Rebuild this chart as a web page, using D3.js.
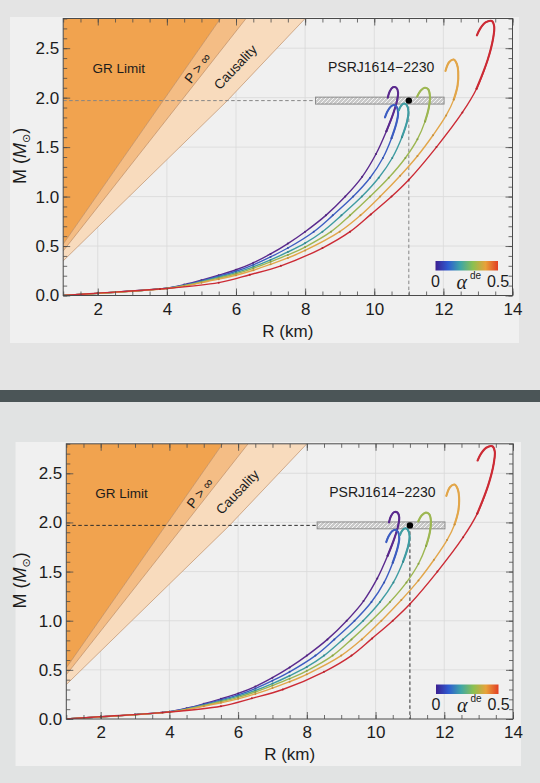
<!DOCTYPE html>
<html>
<head>
<meta charset="utf-8">
<script src="https://cdn.jsdelivr.net/npm/d3@7"></script>
<style>
  body { margin: 0; background: #e4e4e4; }
  svg text { font-family: "Liberation Sans", Arial, "DejaVu Sans", sans-serif; fill: #1c1c1c; }
</style>
</head>
<body>
<svg id="fig" width="540" height="783"></svg>
<script>
// ---- data: [R (km), M (Msun)] ----
const alphaValues = [0, 0.1, 0.2, 0.3, 0.4, 0.5];
const curveColors = ["#5b2a8e", "#3d5ec2", "#3f9ca2", "#9db752", "#e2a64a", "#cc2b35"];
const colorbarStops = ["#3c1f91", "#2e5bd0", "#3fa6a6", "#8cc050", "#e8a23a", "#e23e24"];

const curveA0 = [[1.0,0.0],[2.0,0.022],[3.0,0.045],[4.0,0.075],[4.5,0.11],[5.0,0.155],[5.5,0.205],[6.0,0.26],[6.5,0.33],[7.0,0.42],[7.5,0.525],[8.0,0.645],[8.6,0.81],[9.16,1.0],[9.65,1.2],[10.05,1.43],[10.35,1.66],[10.55,1.84],[10.66,1.97],[10.69,2.05],[10.64,2.1],[10.54,2.105],[10.45,2.065],[10.39,2.0]];
const curveA1 = [[1.0,0.0],[2.0,0.022],[3.0,0.045],[4.0,0.074],[4.5,0.105],[5.0,0.148],[5.5,0.195],[6.0,0.245],[6.5,0.31],[7.0,0.39],[7.5,0.48],[8.25,0.645],[8.8,0.81],[9.39,1.0],[9.88,1.19],[10.25,1.39],[10.5,1.59],[10.64,1.74],[10.69,1.84],[10.66,1.9],[10.58,1.925],[10.48,1.91],[10.38,1.86],[10.31,1.8]];
const curveA2 = [[1.0,0.0],[2.0,0.022],[3.0,0.044],[4.0,0.073],[4.5,0.1],[5.0,0.14],[5.5,0.185],[6.0,0.232],[6.5,0.29],[7.0,0.36],[7.5,0.44],[8.0,0.53],[8.5,0.645],[9.05,0.81],[9.64,1.0],[10.13,1.19],[10.52,1.39],[10.8,1.6],[10.95,1.76],[10.99,1.86],[10.94,1.925],[10.86,1.94],[10.77,1.915],[10.71,1.87]];
const curveA3 = [[1.0,0.0],[2.0,0.022],[3.0,0.044],[4.0,0.072],[4.5,0.098],[5.0,0.135],[5.5,0.175],[6.0,0.22],[6.5,0.275],[7.0,0.34],[7.5,0.41],[8.0,0.49],[8.75,0.645],[9.3,0.81],[9.88,1.0],[10.42,1.19],[10.9,1.39],[11.25,1.58],[11.47,1.76],[11.58,1.9],[11.61,2.02],[11.56,2.085],[11.46,2.1],[11.34,2.07],[11.24,2.01]];
const curveA4 = [[1.0,0.0],[2.0,0.022],[3.0,0.043],[4.0,0.07],[4.5,0.095],[5.0,0.13],[5.5,0.165],[6.0,0.205],[6.5,0.255],[7.0,0.315],[7.5,0.38],[8.0,0.455],[9.0,0.645],[9.6,0.81],[10.17,1.0],[10.75,1.21],[11.25,1.41],[11.7,1.62],[12.08,1.82],[12.3,1.98],[12.41,2.12],[12.43,2.26],[12.39,2.34],[12.3,2.385],[12.17,2.36],[12.06,2.27]];
const curveA5 = [[1.0,0.0],[2.0,0.024],[3.8,0.065],[5.5,0.13],[6.4,0.21],[7.3,0.3],[8.5,0.48],[9.3,0.645],[9.9,0.82],[10.5,1.0],[11.0,1.17],[11.8,1.5],[12.55,1.85],[12.96,2.09],[13.28,2.38],[13.44,2.6],[13.47,2.72],[13.4,2.775],[13.22,2.76],[13.07,2.7],[12.97,2.63]];
const curves = [curveA0, curveA1, curveA2, curveA3, curveA4, curveA5];

// excluded regions (boundary lines)
const grLimit = [[1.0,0.52],[5.55,2.8]];
const pInfinity = [[1.0,0.45],[6.29,2.8]];
const causality = [[1.0,0.35],[5.75,1.97],[8.0,2.8]];

// PSR J1614-2230
const psrMass = 1.97;
const psrMassErr = 0.035;
const psrBand = [8.3, 12.02];
const psrRadius = 11.0;

// axes
const xDomain = [1, 14];
const yDomain = [0, 2.8];
const xTicks = [2, 4, 6, 8, 10, 12, 14];
const xMinor = d3.range(1, 14.01, 0.5);
const yTicks = [0, 0.5, 1.0, 1.5, 2.0, 2.5];
const yMinor = d3.range(0, 2.801, 0.1);
const xGrid = [2, 4, 6, 8, 10, 12];
const yGrid = [0.5, 1.0, 1.5, 2.0, 2.5];

// ---- page ----
const svg = d3.select("#fig");
svg.append("rect").attr("width", 540).attr("height", 783).attr("fill", "#e4e4e4");
svg.append("rect").attr("y", 402).attr("width", 540).attr("height", 381).attr("fill", "#e1e3e3");
svg.append("rect").attr("y", 390).attr("width", 540).attr("height", 12).attr("fill", "#4b5557");

const defs = svg.append("defs");
const hatch = defs.append("pattern")
  .attr("id", "hatch").attr("patternUnits", "userSpaceOnUse")
  .attr("width", 4).attr("height", 4);
hatch.append("rect").attr("width", 4).attr("height", 4).attr("fill", "#c9c9c9");
hatch.append("path").attr("d", "M0,4 L4,0 M-1,1 L1,-1 M3,5 L5,3")
  .attr("stroke", "#f4f4f4").attr("stroke-width", 1);

const grad = defs.append("linearGradient").attr("id", "cbar");
colorbarStops.forEach((c, i) => grad.append("stop")
  .attr("offset", i / (colorbarStops.length - 1)).attr("stop-color", c));

const panels = [
  { card: [10, 17, 509, 326], plot: [63.2, 18.5, 512.5, 295.5], dash: "#858585" },
  { card: [15.5, 442, 505.5, 324], plot: [66.3, 443.8, 513, 719], dash: "#2e2e2e" }
];

panels.forEach((p, i) => drawPanel(p, i));

function drawPanel(p, i) {
  const [left, top, right, bottom] = p.plot;
  const x = d3.scaleLinear().domain(xDomain).range([left, right]);
  const y = d3.scaleLinear().domain(yDomain).range([bottom, top]);
  const g = svg.append("g");

  g.append("rect")
    .attr("x", p.card[0]).attr("y", p.card[1])
    .attr("width", p.card[2]).attr("height", p.card[3])
    .attr("fill", "#f0f0f0");

  defs.append("clipPath").attr("id", "clip" + i)
    .append("rect").attr("x", left).attr("y", top)
    .attr("width", right - left).attr("height", bottom - top);

  const plot = g.append("g").attr("clip-path", "url(#clip" + i + ")");

  // grid
  plot.selectAll(".gx").data(xGrid).join("line")
    .attr("x1", d => x(d)).attr("x2", d => x(d))
    .attr("y1", top).attr("y2", bottom)
    .attr("stroke", "#d9d9d9").attr("stroke-width", 0.8);
  plot.selectAll(".gy").data(yGrid).join("line")
    .attr("y1", d => y(d)).attr("y2", d => y(d))
    .attr("x1", left).attr("x2", right)
    .attr("stroke", "#d9d9d9").attr("stroke-width", 0.8);

  // excluded regions
  const poly = d3.line().x(d => x(d[0])).y(d => y(d[1]));
  const grPoly = [...grLimit, [xDomain[0], yDomain[1]]];
  const pPoly = [...grLimit, ...pInfinity.slice().reverse()];
  const cPoly = [...pInfinity, ...causality.slice().reverse()];
  plot.append("path").attr("d", poly(cPoly) + "Z").attr("fill", "#f8dbbd");
  plot.append("path").attr("d", poly(pPoly) + "Z").attr("fill", "#f4bd85");
  plot.append("path").attr("d", poly(grPoly) + "Z").attr("fill", "#f1a34f");
  [grLimit, pInfinity, causality].forEach(l => plot.append("path")
    .attr("d", poly(l)).attr("fill", "none")
    .attr("stroke", "#b58258").attr("stroke-width", 0.6));

  // region labels
  g.append("text").attr("x", x(2.61)).attr("y", y(2.3)).attr("dy", "0.35em")
    .attr("text-anchor", "middle").attr("font-size", 13.5).attr("fill", "#33261a")
    .text("GR Limit");
  const ang = (a, b) => Math.atan2(y(b[1]) - y(a[1]), x(b[0]) - x(a[0])) * 180 / Math.PI;
  g.append("text")
    .attr("transform", `translate(${x(4.89)},${y(2.3)}) rotate(${ang(pInfinity[0], pInfinity[1])})`)
    .attr("dy", "0.35em").attr("text-anchor", "middle").attr("font-size", 13.5)
    .text("P > \u221E");
  g.append("text")
    .attr("transform", `translate(${x(5.98)},${y(2.31)}) rotate(${ang(causality[1], causality[2])})`)
    .attr("dy", "0.35em").attr("text-anchor", "middle").attr("font-size", 13.5)
    .text("Causality");

  // PSR constraint
  plot.append("line")
    .attr("x1", left).attr("x2", x(psrRadius))
    .attr("y1", y(psrMass)).attr("y2", y(psrMass))
    .attr("stroke", p.dash).attr("stroke-width", 1).attr("stroke-dasharray", "3.5,2.5");
  plot.append("line")
    .attr("x1", x(psrRadius)).attr("x2", x(psrRadius))
    .attr("y1", y(psrMass)).attr("y2", bottom)
    .attr("stroke", p.dash).attr("stroke-width", 1).attr("stroke-dasharray", "3.5,2.5");
  plot.append("rect")
    .attr("x", x(psrBand[0])).attr("width", x(psrBand[1]) - x(psrBand[0]))
    .attr("y", y(psrMass + psrMassErr)).attr("height", y(psrMass - psrMassErr) - y(psrMass + psrMassErr))
    .attr("fill", "url(#hatch)").attr("stroke", "#8c8c8c").attr("stroke-width", 1);
  g.append("text").attr("x", x(10.2)).attr("y", y(2.26))
    .attr("text-anchor", "middle").attr("font-size", 14)
    .text("PSRJ1614\u22122230");

  // mass-radius curves
  const line = d3.line().x(d => x(d[0])).y(d => y(d[1])).curve(d3.curveCatmullRom.alpha(0.5));
  curves.forEach((c, k) => {
    const maxM = d3.max(c, d => d[1]);
    const start = c.findIndex(d => d[1] >= 0.84 * maxM);
    plot.append("path").attr("d", line(c)).attr("fill", "none")
      .attr("stroke", curveColors[k]).attr("stroke-width", 1.4);
    plot.append("path").attr("d", line(c.slice(Math.max(start - 1, 0)))).attr("fill", "none")
      .attr("stroke", curveColors[k]).attr("stroke-width", 2.1).attr("stroke-linecap", "round");
    plot.selectAll(null).data(c.slice(1, start)).join("circle")
      .attr("cx", d => x(d[0])).attr("cy", d => y(d[1])).attr("r", 1.0)
      .attr("fill", d3.color(curveColors[k]).darker(0.4));
  });

  plot.append("circle").attr("cx", x(psrRadius)).attr("cy", y(psrMass)).attr("r", 3.2).attr("fill", "#000");

  // colorbar legend
  const cbX0 = right - 77, cbX1 = right - 14.5;
  g.append("rect").attr("x", cbX0).attr("y", bottom - 34.5)
    .attr("width", cbX1 - cbX0).attr("height", 9.5).attr("fill", "url(#cbar)");
  g.append("text").attr("x", cbX0).attr("y", bottom - 9).attr("text-anchor", "middle")
    .attr("font-size", 16).text(d3.format("d")(alphaValues[0]));
  g.append("text").attr("x", cbX1).attr("y", bottom - 9).attr("text-anchor", "middle")
    .attr("font-size", 16).text(d3.format(".1f")(alphaValues[alphaValues.length - 1]));
  const al = g.append("text").attr("x", cbX0 + 21).attr("y", bottom - 7);
  al.append("tspan").attr("font-family", "Liberation Serif, serif").attr("font-style", "italic")
    .attr("font-size", 20).text("\u03B1");
  al.append("tspan").attr("font-size", 10).attr("dx", 3).attr("dy", -10).text("de");

  // frame and ticks
  const axes = [
    [d3.axisBottom(x).tickValues(xTicks).tickSize(-7).tickPadding(7).tickFormat(d3.format("d")), `translate(0,${bottom})`],
    [d3.axisBottom(x).tickValues(xMinor).tickSize(-4).tickFormat(""), `translate(0,${bottom})`],
    [d3.axisTop(x).tickValues(xTicks).tickSize(-7).tickFormat(""), `translate(0,${top})`],
    [d3.axisTop(x).tickValues(xMinor).tickSize(-4).tickFormat(""), `translate(0,${top})`],
    [d3.axisLeft(y).tickValues(yTicks).tickSize(-7).tickPadding(4).tickFormat(d3.format(".1f")), `translate(${left},0)`],
    [d3.axisLeft(y).tickValues(yMinor).tickSize(-4).tickFormat(""), `translate(${left},0)`],
    [d3.axisRight(y).tickValues(yTicks).tickSize(-7).tickFormat(""), `translate(${right},0)`],
    [d3.axisRight(y).tickValues(yMinor).tickSize(-4).tickFormat(""), `translate(${right},0)`]
  ];
  axes.forEach(([ax, tr]) => {
    const a = g.append("g").attr("transform", tr).call(ax);
    a.select(".domain").remove();
    a.selectAll("line").attr("stroke", "#4a4a4a").attr("stroke-width", 0.8);
    a.selectAll("text").attr("font-size", 17).attr("fill", "#1c1c1c")
      .style("font-family", "Liberation Sans, Arial, sans-serif");
  });
  g.append("rect").attr("x", left).attr("y", top)
    .attr("width", right - left).attr("height", bottom - top)
    .attr("fill", "none").attr("stroke", "#4a4a4a").attr("stroke-width", 1);

  // axis titles
  g.append("text").attr("x", (left + right) / 2).attr("y", bottom + 41)
    .attr("text-anchor", "middle").attr("font-size", 17).text("R (km)");
  const mid = (top + bottom) / 2;
  const yl = g.append("text").attr("transform", `translate(26,${mid + 27}) rotate(-90)`)
    .attr("font-size", 18);
  yl.append("tspan").text("M (");
  yl.append("tspan").attr("font-style", "italic").text("M");
  yl.append("tspan").attr("font-size", 11).attr("dy", 4)
    .style("font-family", "DejaVu Sans, sans-serif").text("\u2299");
  yl.append("tspan").attr("dy", -4).text(")");
}
</script>
</body>
</html>
